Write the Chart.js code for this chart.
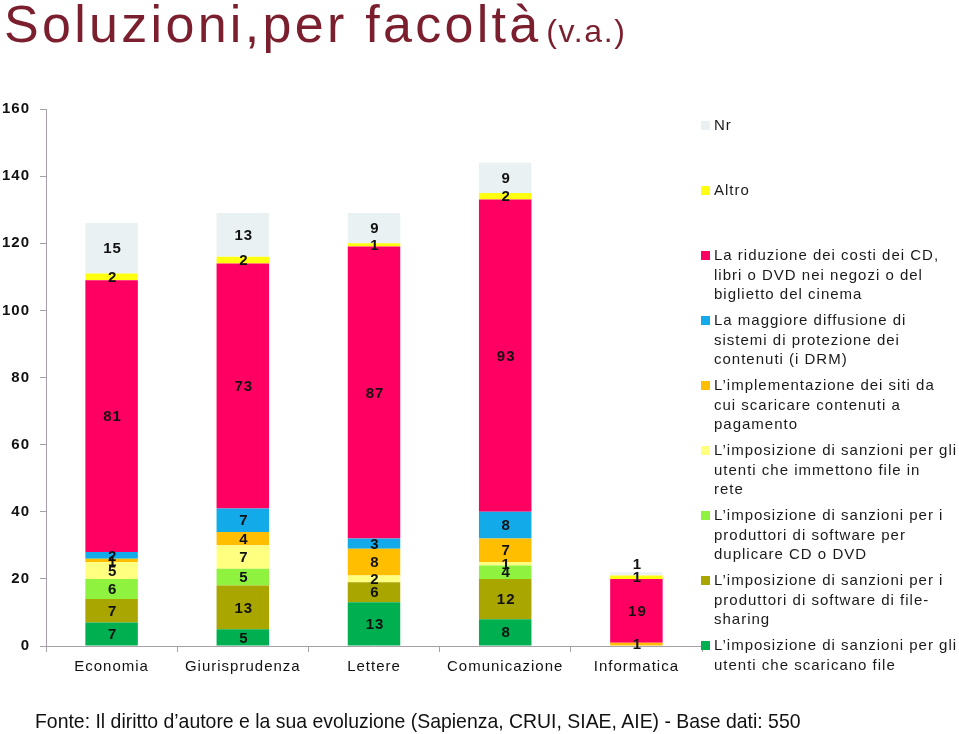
<!DOCTYPE html>
<html>
<head>
<meta charset="utf-8">
<script src="https://cdn.jsdelivr.net/npm/chart.js@4"></script>
<style>
  body { margin: 0; background: #fff; }
  #wrap { position: relative; width: 959px; height: 734px; overflow: hidden; }
  #wrap canvas { position: absolute; left: 0; top: 0; }
  .title {
    position: absolute; left: 4px; top: -6px; z-index: 2;
    font-family: "Liberation Sans", Arial, sans-serif;
    font-size: 52px; letter-spacing: 3.3px; color: #7b1f2e; white-space: nowrap;
  }
  .title small { font-size: 32px; letter-spacing: 1.6px; margin-left: -13px; }
  .note {
    position: absolute; left: 35px; top: 709px; z-index: 2;
    font-family: "Liberation Sans", Arial, sans-serif;
    font-size: 21px; color: #111; white-space: nowrap;
    transform: scaleX(0.925); transform-origin: 0 0;
  }
</style>
</head>
<body>
<div id="wrap">
  <div class="title">Soluzioni,per facoltà <small>(v.a.)</small></div>
  <canvas id="facolta" width="959" height="734"></canvas>
  <div class="note">Fonte: Il diritto d’autore e la sua evoluzione (Sapienza, CRUI, SIAE, AIE) - Base dati: 550</div>
</div>
<script>
// data
const categories = ["Economia", "Giurisprudenza", "Lettere", "Comunicazione", "Informatica"];
const scaricano   = [7, 5, 13, 8, 0];
const fileSharing = [7, 13, 6, 12, 0];
const duplicare   = [6, 5, 0, 4, 0];
const immettono   = [5, 7, 2, 1, 0];
const pagamento   = [1, 4, 8, 7, 1];
const drm         = [2, 7, 3, 8, 0];
const costi       = [81, 73, 87, 93, 19];
const altro       = [2, 2, 1, 2, 1];
const nr          = [15, 13, 9, 9, 1];
const yTicks = [0, 20, 40, 60, 80, 100, 120, 140, 160];

const seriesNames = [
  ["L\u2019imposizione di sanzioni per gli", "utenti che scaricano file"],
  ["L\u2019imposizione di sanzioni per i", "produttori di software di file-", "sharing"],
  ["L\u2019imposizione di sanzioni per i", "produttori di software per", "duplicare CD o DVD"],
  ["L\u2019imposizione di sanzioni per gli", "utenti che immettono file in", "rete"],
  ["L\u2019implementazione dei siti da", "cui scaricare contenuti a", "pagamento"],
  ["La maggiore diffusione di", "sistemi di protezione dei", "contenuti (i DRM)"],
  ["La riduzione dei costi dei CD,", "libri o DVD nei negozi o del", "biglietto del cinema"],
  ["Altro"],
  ["Nr"]
];
const seriesValues = [scaricano, fileSharing, duplicare, immettono, pagamento, drm, costi, altro, nr];
const seriesColors = ["#00b050", "#aaa600", "#8ef23e", "#ffff80", "#ffbf00", "#12aae8", "#ff0062", "#ffff10", "#e9f1f2"];

const FONT = '"Liberation Sans", Arial, sans-serif';

// letter spacing like the original (pdf text is spaced out)
const spacing = {
  id: 'spacing',
  beforeLayout(chart) { chart.ctx.letterSpacing = '1px'; },
  beforeDraw(chart) { chart.ctx.letterSpacing = '1px'; }
};

// numbers inside each segment
const segmentLabels = {
  id: 'segmentLabels',
  afterDatasetsDraw(chart) {
    const ctx = chart.ctx;
    const last = chart.data.datasets.length - 1;
    ctx.save();
    ctx.letterSpacing = '1px';
    ctx.font = 'bold 15px ' + FONT;
    ctx.fillStyle = '#111';
    ctx.textAlign = 'center';
    ctx.textBaseline = 'middle';
    chart.data.datasets.forEach((ds, i) => {
      chart.getDatasetMeta(i).data.forEach((bar, j) => {
        const v = ds.data[j];
        if (!v) return;
        let y = (bar.y + bar.base) / 2 + 1;
        // tiny top segment: put its number just over the bar
        if (i === last && bar.base - bar.y < 10) y = bar.y - 7;
        ctx.fillText(String(v), bar.x + 1, y);
      });
    });
    ctx.restore();
  }
};

// legend on the right, wrapped lines, Nr on top
const sideLegend = {
  id: 'sideLegend',
  afterDraw(chart) {
    const ctx = chart.ctx;
    const area = chart.chartArea;
    const x = area.right - 1;
    let y = area.top + 17;
    ctx.save();
    ctx.letterSpacing = '1px';
    ctx.font = '15px ' + FONT;
    ctx.textBaseline = 'middle';
    ctx.textAlign = 'left';
    const sets = chart.data.datasets.slice().reverse();
    sets.forEach(ds => {
      ctx.fillStyle = ds.backgroundColor;
      ctx.fillRect(x, y - 5, 9, 9);
      ctx.fillStyle = '#1a1a1a';
      ds.lines.forEach((t, k) => ctx.fillText(t, x + 13, y + k * 19.5));
      y += 65;
    });
    ctx.restore();
  }
};

const datasets = seriesValues.map((vals, i) => ({
  label: seriesNames[i].join(' '),
  lines: seriesNames[i],
  data: vals,
  backgroundColor: seriesColors[i],
  borderWidth: 0,
  barPercentage: 0.4,
  categoryPercentage: 1
}));

const config = {
  type: 'bar',
  data: { labels: categories, datasets: datasets },
  options: {
    responsive: false,
    animation: false,
    layout: { padding: { top: 109, right: 257, bottom: 0, left: 0 } },
    plugins: { legend: { display: false }, tooltip: { enabled: false } },
    scales: {
      x: {
        stacked: true,
        afterFit(scale) { scale.height = 88; },
        grid: { display: true, drawOnChartArea: false, offset: true, tickLength: 6, color: '#a8a0a8' },
        border: { color: '#a8a0a8', width: 1 },
        ticks: { color: '#111', font: { family: FONT, size: 15 }, padding: 6, maxRotation: 0 }
      },
      y: {
        stacked: true,
        min: 0,
        max: 160,
        afterFit(scale) { scale.width = 46; },
        afterBuildTicks(scale) { scale.ticks = yTicks.map(v => ({ value: v })); },
        grid: { display: true, drawOnChartArea: false, tickLength: 6, color: '#a8a0a8' },
        border: { color: '#a8a0a8', width: 1 },
        ticks: { color: '#111', font: { family: FONT, size: 15, weight: 'bold' }, padding: 10 }
      }
    }
  },
  plugins: [spacing, segmentLabels, sideLegend]
};

const ctx = document.getElementById('facolta').getContext('2d');
const facoltaChart = new Chart(ctx, config);
</script>
</body>
</html>
